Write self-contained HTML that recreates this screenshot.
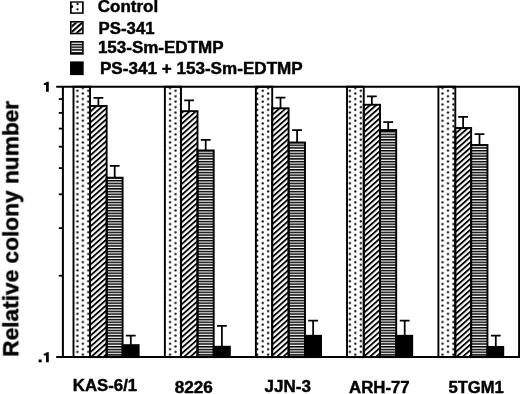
<!DOCTYPE html>
<html><head><meta charset="utf-8"><title>chart</title>
<style>
html,body{margin:0;padding:0;background:#fff;}
body{width:520px;height:394px;overflow:hidden;}
svg{display:block;}
text{filter:url(#ga);font-family:"Liberation Sans",sans-serif;font-weight:bold;fill:#000;stroke:#000;stroke-width:0.45px;}
</style></head><body>
<svg width="520" height="394" viewBox="0 0 520 394">
<defs>
<filter id="ga" filterUnits="userSpaceOnUse" x="-600" y="-600" width="1200" height="1200"><feOffset dx="0" dy="0"/></filter>
<pattern id="dots" x="74.672" y="89.440" width="10.9" height="5.44" patternUnits="userSpaceOnUse">
<circle cx="2.7275" cy="1.36" r="1.12" fill="#000"/><circle cx="8.1775" cy="4.08" r="1.12" fill="#000"/>
</pattern>
<pattern id="hatch" x="0" y="3.143" width="20" height="4.0985" patternUnits="userSpaceOnUse" patternTransform="rotate(-41.45)">
<rect x="0" y="0" width="20" height="1.85" fill="#000"/>
</pattern>
<pattern id="hatchL" x="0" y="0.738" width="20" height="4.0985" patternUnits="userSpaceOnUse" patternTransform="rotate(-41.45)">
<rect x="0" y="0" width="20" height="2.1" fill="#000"/>
</pattern>
<pattern id="hz" x="0" y="179.920" width="20" height="2.723" patternUnits="userSpaceOnUse">
<rect x="0" y="0" width="20" height="1.5" fill="#000"/>
</pattern>
</defs>
<rect width="520" height="394" fill="#fff"/>

<rect x="70.0" y="1.3" width="13.70" height="12.55" fill="#000"/><rect x="71.7" y="2.7" width="10.30" height="9.60" fill="#fff"/><rect x="71.7" y="2.7" width="10.30" height="9.60" fill="none"/>
<rect x="70.0" y="21.0" width="13.70" height="13.30" fill="#000"/><rect x="71.6" y="22.6" width="10.50" height="10.20" fill="#fff"/><rect x="71.6" y="22.6" width="10.50" height="10.20" fill="url(#hatchL)"/>
<rect x="70.0" y="41.0" width="13.70" height="13.70" fill="#000"/><rect x="71.6" y="42.5" width="10.50" height="10.40" fill="#fff"/><rect x="71.6" y="42.5" width="10.50" height="10.40" fill="url(#hz)"/>
<rect x="70.0" y="61.4" width="13.70" height="13.70" fill="#000"/>
<circle cx="77.5" cy="4.1" r="1.15"/><circle cx="77.5" cy="9.3" r="1.15"/><circle cx="71.9" cy="6.6" r="1.3"/>
<text x="97.8" y="12.3" font-size="17">Control</text>
<text x="98.6" y="34.1" font-size="16.8">PS-341</text>
<text x="97.9" y="53.1" font-size="17">153-Sm-EDTMP</text>
<text x="99.9" y="73.5" font-size="17.1">PS-341 + 153-Sm-EDTMP</text>
<text transform="translate(18.3,356.8) rotate(-90)" font-size="22.7">Relative colony number</text>
<path d="M46.60 81.80 H48.80 V91.80 H46.05 V84.90 H43.80 V83.20 C45.20 83.20 46.30 82.70 46.60 81.80 Z" fill="#000"/>
<path d="M46.60 352.30 H48.80 V362.30 H46.05 V355.40 H43.80 V353.70 C45.20 353.70 46.30 353.20 46.60 352.30 Z" fill="#000"/>
<rect x="38.6" y="359.5" width="3.1" height="2.8" fill="#000"/>
<rect x="73.5" y="86.7" width="16.50" height="270.40" fill="url(#dots)" stroke="#000" stroke-width="1.9"/>
<rect x="90.0" y="106.0" width="16.65" height="251.10" fill="url(#hatch)" stroke="#000" stroke-width="1.9"/>
<path d="M98.40 106.0 V97.8 M93.50 97.8 H103.30" stroke="#000" stroke-width="1.75" fill="none"/>
<rect x="106.65" y="177.7" width="15.95" height="179.40" fill="url(#hz)" stroke="#000" stroke-width="1.9"/>
<path d="M114.70 177.7 V165.75 M109.80 165.75 H119.60" stroke="#000" stroke-width="1.75" fill="none"/>
<rect x="122.6" y="345.15" width="16.05" height="11.95" fill="#000" stroke="#000" stroke-width="1.9"/>
<path d="M130.80 345.15 V335.5 M125.90 335.5 H135.70" stroke="#000" stroke-width="1.75" fill="none"/>
<rect x="164.85" y="86.7" width="16.15" height="270.40" fill="url(#dots)" stroke="#000" stroke-width="1.9"/>
<rect x="181.0" y="111.15" width="16.50" height="245.95" fill="url(#hatch)" stroke="#000" stroke-width="1.9"/>
<path d="M189.10 111.15 V100.45 M184.20 100.45 H194.00" stroke="#000" stroke-width="1.75" fill="none"/>
<rect x="197.5" y="150.45" width="16.20" height="206.65" fill="url(#hz)" stroke="#000" stroke-width="1.9"/>
<path d="M205.70 150.45 V139.85 M200.80 139.85 H210.60" stroke="#000" stroke-width="1.75" fill="none"/>
<rect x="213.7" y="346.75" width="16.15" height="10.35" fill="#000" stroke="#000" stroke-width="1.9"/>
<path d="M221.90 346.75 V325.9 M217.00 325.9 H226.80" stroke="#000" stroke-width="1.75" fill="none"/>
<rect x="255.9" y="86.7" width="16.30" height="270.40" fill="url(#dots)" stroke="#000" stroke-width="1.9"/>
<rect x="272.2" y="108.3" width="16.40" height="248.80" fill="url(#hatch)" stroke="#000" stroke-width="1.9"/>
<path d="M280.50 108.3 V97.6 M275.60 97.6 H285.40" stroke="#000" stroke-width="1.75" fill="none"/>
<rect x="288.6" y="142.5" width="16.40" height="214.60" fill="url(#hz)" stroke="#000" stroke-width="1.9"/>
<path d="M297.10 142.5 V130.1 M292.20 130.1 H302.00" stroke="#000" stroke-width="1.75" fill="none"/>
<rect x="305.0" y="335.8" width="16.05" height="21.30" fill="#000" stroke="#000" stroke-width="1.9"/>
<path d="M313.15 335.8 V320.5 M308.25 320.5 H318.05" stroke="#000" stroke-width="1.75" fill="none"/>
<rect x="347.0" y="86.7" width="16.75" height="270.40" fill="url(#dots)" stroke="#000" stroke-width="1.9"/>
<rect x="363.75" y="104.75" width="16.25" height="252.35" fill="url(#hatch)" stroke="#000" stroke-width="1.9"/>
<path d="M371.85 104.75 V96.3 M366.95 96.3 H376.75" stroke="#000" stroke-width="1.75" fill="none"/>
<rect x="380.0" y="130.05" width="16.20" height="227.05" fill="url(#hz)" stroke="#000" stroke-width="1.9"/>
<path d="M388.20 130.05 V122.1 M383.30 122.1 H393.10" stroke="#000" stroke-width="1.75" fill="none"/>
<rect x="396.2" y="335.8" width="16.00" height="21.30" fill="#000" stroke="#000" stroke-width="1.9"/>
<path d="M404.70 335.8 V320.5 M399.80 320.5 H409.60" stroke="#000" stroke-width="1.75" fill="none"/>
<rect x="438.4" y="86.7" width="16.90" height="270.40" fill="url(#dots)" stroke="#000" stroke-width="1.9"/>
<rect x="455.3" y="128.0" width="15.85" height="229.10" fill="url(#hatch)" stroke="#000" stroke-width="1.9"/>
<path d="M463.10 128.0 V116.9 M458.20 116.9 H468.00" stroke="#000" stroke-width="1.75" fill="none"/>
<rect x="471.15" y="145.0" width="16.30" height="212.10" fill="url(#hz)" stroke="#000" stroke-width="1.9"/>
<path d="M479.50 145.0 V134.2 M474.60 134.2 H484.40" stroke="#000" stroke-width="1.75" fill="none"/>
<rect x="487.45" y="346.95" width="15.80" height="10.15" fill="#000" stroke="#000" stroke-width="1.9"/>
<path d="M495.80 346.95 V335.5 M490.90 335.5 H500.70" stroke="#000" stroke-width="1.75" fill="none"/>
<path d="M56.2 86.7 H519.1 V357.1 H56.2 M62.9 86.7 V357.1" stroke="#000" stroke-width="2.0" fill="none"/>
<path d="M58.8 99.07 H62.9" stroke="#000" stroke-width="1.8"/>
<path d="M58.8 112.90 H62.9" stroke="#000" stroke-width="1.8"/>
<path d="M58.8 128.59 H62.9" stroke="#000" stroke-width="1.8"/>
<path d="M58.8 146.69 H62.9" stroke="#000" stroke-width="1.8"/>
<path d="M58.8 168.10 H62.9" stroke="#000" stroke-width="1.8"/>
<path d="M58.8 194.30 H62.9" stroke="#000" stroke-width="1.8"/>
<path d="M58.8 228.09 H62.9" stroke="#000" stroke-width="1.8"/>
<path d="M58.8 275.70 H62.9" stroke="#000" stroke-width="1.8"/>
<text x="72.8" y="391.4" font-size="16.8">KAS-6/1</text>
<text x="174.7" y="393.1" font-size="17.2">8226</text>
<text x="264.6" y="391.8" font-size="17.0">JJN-3</text>
<text x="349.1" y="392.6" font-size="16.8">ARH-77</text>
<text x="448.5" y="392.6" font-size="16.6">5TGM1</text>
</svg></body></html>
